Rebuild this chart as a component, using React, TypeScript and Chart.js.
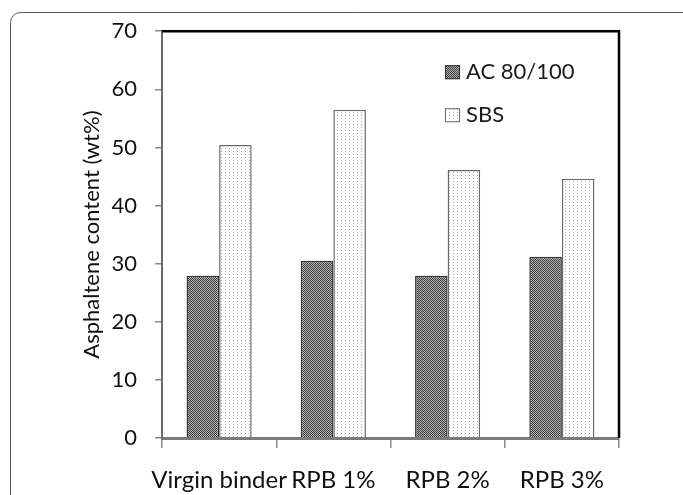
import React, { useEffect, useRef } from 'react';
import { Chart, registerables } from 'chart.js';

Chart.register(...registerables);

const categories = ['Virgin binder', 'RPB 1%', 'RPB 2%', 'RPB 3%'];
const seriesLabels = ['AC 80/100', 'SBS'];
const acValues = [27.9, 30.5, 27.9, 31.2];
const sbsValues = [50.4, 56.5, 46.1, 44.6];
const yMin = 0;
const yMax = 70;
const yStep = 10;
const yTitle = 'Asphaltene content (wt%)';

const FONT = 'Lato, "Open Sans", sans-serif';

function makePattern(kind: 'dark' | 'light'): CanvasPattern | string {
  const c = document.createElement('canvas');
  const ctx = c.getContext('2d');
  if (!ctx) return kind === 'dark' ? '#777' : '#eee';
  if (kind === 'dark') {
    c.width = 2; c.height = 2;
    ctx.fillStyle = '#b0b0b0';
    ctx.fillRect(0, 0, 2, 2);
    ctx.fillStyle = '#404040';
    ctx.fillRect(0, 0, 1, 1);
    ctx.fillRect(1, 1, 1, 1);
  } else {
    c.width = 4; c.height = 3;
    ctx.fillStyle = '#ffffff';
    ctx.fillRect(0, 0, 4, 3);
    ctx.fillStyle = '#a8a8a8';
    ctx.fillRect(1, 1, 1, 1);
  }
  const p = ctx.createPattern(c, 'repeat');
  return p || (kind === 'dark' ? '#777' : '#eee');
}

const framePlugin = {
  id: 'frameAndLegend',
  beforeDraw(chart: any) {
    const ctx = chart.ctx;
    ctx.save();
    ctx.fillStyle = '#ffffff';
    ctx.fillRect(0, 0, chart.width, chart.height);
    ctx.strokeStyle = '#5a5a5a';
    ctx.lineWidth = 1;
    ctx.beginPath();
    if (ctx.roundRect) {
      ctx.roundRect(10.5, 12.5, 720, 540, 10);
    } else {
      ctx.rect(10.5, 12.5, 720, 540);
    }
    ctx.stroke();
    ctx.restore();
  },
  afterDraw(chart: any) {
    const ctx = chart.ctx;
    const a = chart.chartArea;
    ctx.save();
    ctx.strokeStyle = '#000';
    ctx.lineWidth = 2.5;
    ctx.beginPath();
    ctx.moveTo(a.left, a.top);
    ctx.lineTo(a.right, a.top);
    ctx.lineTo(a.right, a.bottom);
    ctx.stroke();

    const lx = a.left + 283;
    chart.data.datasets.forEach((ds: any, i: number) => {
      const y = a.top + 41 + i * 43;
      ctx.fillStyle = ds.backgroundColor;
      ctx.fillRect(lx, y - 7, 15, 14);
      ctx.strokeStyle = ds.borderColor;
      ctx.lineWidth = 1;
      ctx.strokeRect(lx + 0.5, y - 6.5, 14, 13);
      ctx.fillStyle = '#1a1a1a';
      ctx.font = `22px ${FONT}`;
      ctx.textBaseline = 'middle';
      ctx.textAlign = 'left';
      ctx.fillText(ds.label, lx + 21, y);
    });
    ctx.restore();
  },
};

export default function App() {
  const ref = useRef<HTMLCanvasElement | null>(null);

  useEffect(() => {
    if (!ref.current) return;
    const darkPat = makePattern('dark');
    const lightPat = makePattern('light');
    const chart = new Chart(ref.current, {
      type: 'bar',
      data: {
        labels: categories,
        datasets: [
          {
            label: seriesLabels[0],
            data: acValues,
            backgroundColor: darkPat as any,
            borderColor: '#333333',
            borderWidth: 1.5,
            categoryPercentage: 0.57,
            barPercentage: 1.0,
          },
          {
            label: seriesLabels[1],
            data: sbsValues,
            backgroundColor: lightPat as any,
            borderColor: '#6a6a6a',
            borderWidth: 1.5,
            categoryPercentage: 0.57,
            barPercentage: 1.0,
          },
        ],
      },
      options: {
        animation: false,
        responsive: false,
        devicePixelRatio: 1,
        layout: { padding: { top: 28, right: 64, left: 0, bottom: 0 } },
        plugins: {
          legend: { display: false },
          tooltip: { enabled: false },
        },
        scales: {
          x: {
            grid: {
              display: true,
              drawOnChartArea: false,
              drawTicks: true,
              tickLength: 10,
              color: '#8a8a8a',
              lineWidth: 1.5,
            },
            border: { display: true, color: '#7a7a7a', width: 3 },
            ticks: {
              color: '#111',
              font: { family: FONT, size: 24 },
              padding: 18,
              maxRotation: 0,
              autoSkip: false,
            },
            afterFit: (scale: any) => {
              scale.height = 57;
            },
          },
          y: {
            min: yMin,
            max: yMax,
            grid: {
              display: true,
              drawOnChartArea: false,
              drawTicks: true,
              tickLength: 7,
              color: '#8a8a8a',
              lineWidth: 1.5,
            },
            border: { display: true, color: '#6a6a6a', width: 2 },
            ticks: {
              stepSize: yStep,
              color: '#111',
              font: { family: FONT, size: 22 },
              padding: 18,
            },
            title: {
              display: true,
              text: yTitle,
              color: '#111',
              font: { family: FONT, size: 22 },
              padding: { top: 79, bottom: 0 },
            },
            afterFit: (scale: any) => {
              scale.width = 162;
            },
          },
        },
      },
      plugins: [framePlugin],
    } as any);
    return () => chart.destroy();
  }, []);

  return (
    <div style={{ position: 'absolute', left: 0, top: 0, width: 683, height: 495, background: '#fff' }}>
      <canvas ref={ref} width={683} height={495} style={{ display: 'block', width: 683, height: 495 }} />
    </div>
  );
}
